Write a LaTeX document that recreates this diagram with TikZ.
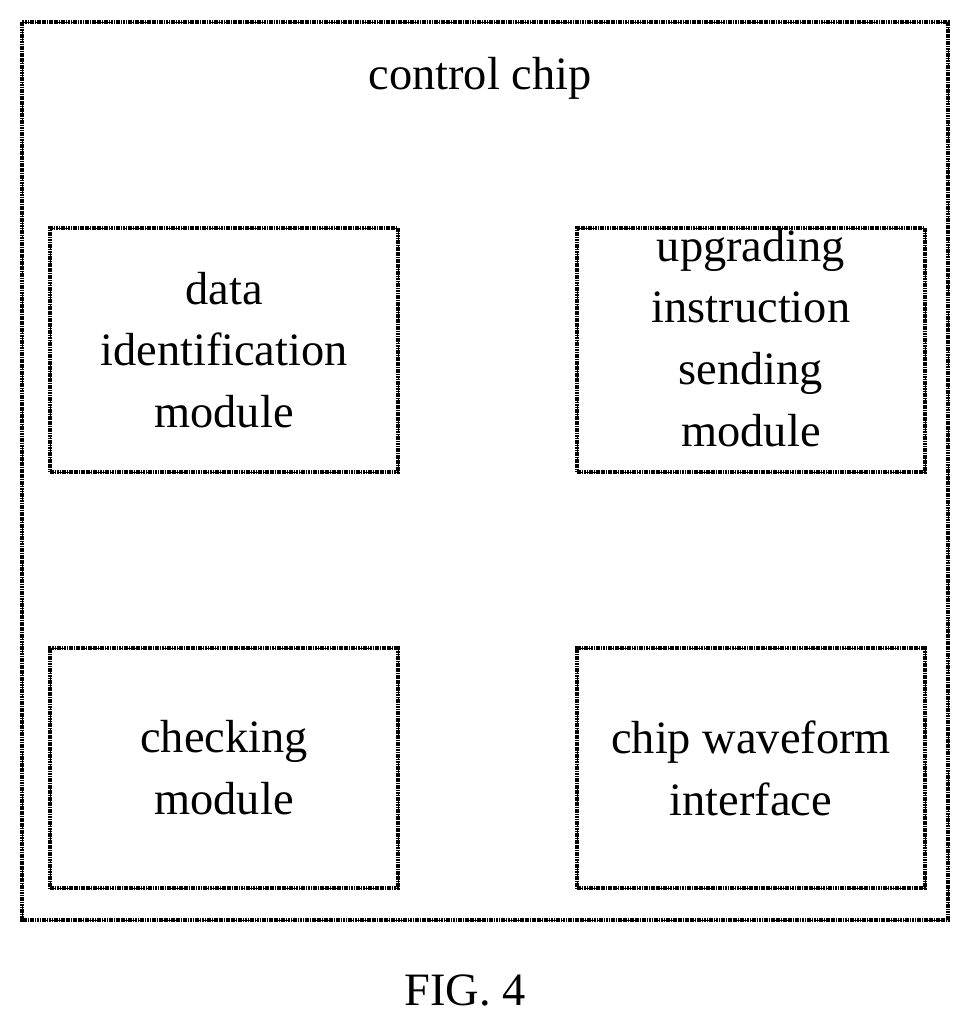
\documentclass[tikz,border=0pt]{standalone}
\usepackage{fontspec}
\setmainfont{Liberation Serif}
\usetikzlibrary{positioning}
\begin{document}
\begin{tikzpicture}[x=0.025cm,y=-0.025cm,
    hatched/.style={draw,line width=3pt,dash pattern=on 1.2pt off 0.5pt,
      postaction={draw,line width=0.6pt,densely dotted}},
    module/.style={hatched,minimum width=8.7cm,minimum height=6cm,align=center,
      font=\fontsize{33}{44}\selectfont,inner sep=0pt},
    caption/.style={font=\fontsize{33}{36}\selectfont}]
  \useasboundingbox (0,0) rectangle (975,1019);
  \draw[hatched] (22,22) rectangle (948,920);
  \node[caption] (title) at (480,78) {control chip};
  % modules
  \node[module,minimum height=6.1cm] (ident) at (224,350) {data\\identification\\module};
  \node[module,minimum height=6.1cm] (upgrade) at (751,350) {};
  \node[align=center,font=\fontsize{33}{44}\selectfont] (upgtext) at (751,338)
    {upgrading\\instruction\\sending\\module};
  \node[module] (check) at (224,768) {checking\\module};
  \node[module] (wave) at (751,768) {chip waveform\\interface};
  \node[caption] (fig) at (465,990) {FIG. 4};
\end{tikzpicture}
\end{document}
